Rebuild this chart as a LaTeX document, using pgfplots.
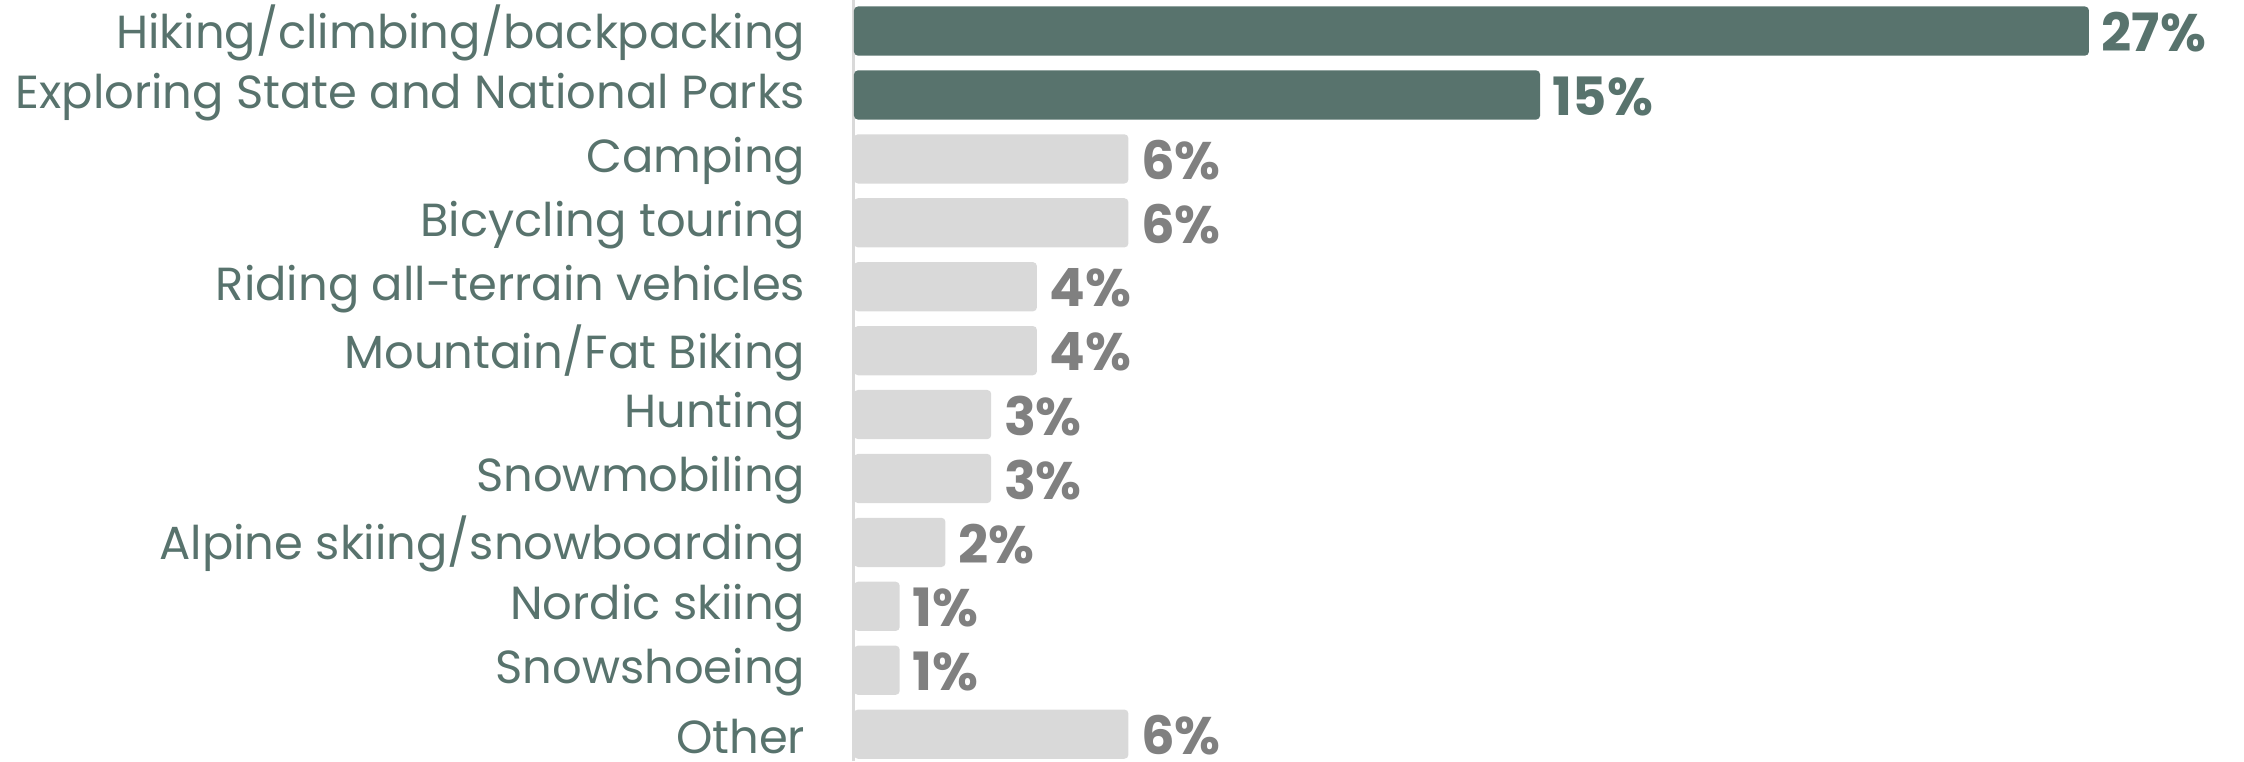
\documentclass[border=0pt]{standalone}
\usepackage{pgfplots}
\pgfplotsset{compat=1.18}
\usepackage{fontspec}
\setmainfont{Poppins}
\definecolor{dkgreen}{HTML}{58736D}
\definecolor{barGray}{HTML}{D9D9D9}
\definecolor{numGray}{HTML}{808080}
\begin{document}
\begin{tikzpicture}
\begin{axis}[
  name=ax,
  scale only axis,
  width=347.5pt, height=190.25pt,
  xmin=0, xmax=30.39,
  ymin=-0.42, ymax=11.486,
  xbar, bar shift=0pt, bar width=0.77,
  axis lines*=left,
  x axis line style={draw=none},
  y axis line style={draw=barGray, line width=0.75pt},
  xtick=\empty,
  ytick={0,...,11},
  yticklabels={Other,Snowshoeing,Nordic skiing,Alpine skiing/snowboarding,Snowmobiling,Hunting,Mountain/Fat Biking,Riding all-terrain vehicles,Bicycling touring,Camping,Exploring State and National Parks,Hiking/climbing/backpacking},
  major tick length=0pt,
  yticklabel style={font=\fontsize{11.6}{13}\selectfont, text=dkgreen, anchor=east, inner sep=0pt, xshift=-12pt, yshift=-0.5pt},
  clip=false,
  /pgf/number format/assume math mode=true,
  nodes near coords={\pgfmathprintnumber{\pgfplotspointmeta}\%},
  nodes near coords align=horizontal,
  every node near coord/.append style={font=\fontsize{13.2}{15}\selectfont\bfseries, inner sep=0pt, xshift=3pt, yshift=-0.3pt},
]
\addplot[fill=dkgreen, draw=none, rounded corners=1pt, every node near coord/.append style={text=dkgreen}] coordinates {(27,11) (15,10)};
\addplot[fill=barGray, draw=none, rounded corners=1pt, every node near coord/.append style={text=numGray}] coordinates {(6,9) (6,8) (4,7) (4,6) (3,5) (3,4) (2,3) (1,2) (1,1) (6,0)};
\end{axis}
\pgfresetboundingbox
\path (ax.south west) ++(-213.5pt,0) rectangle (ax.north east);
\end{tikzpicture}
\end{document}
